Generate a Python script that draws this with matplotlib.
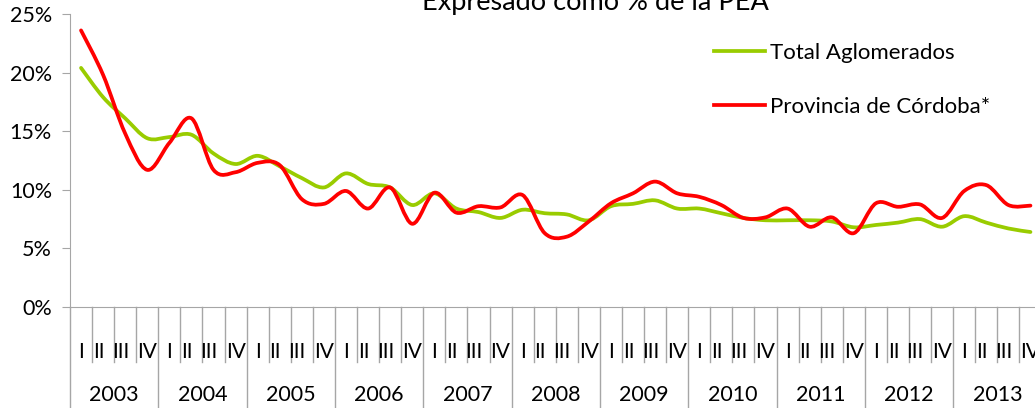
import numpy as np
import matplotlib
matplotlib.use('Agg')
import matplotlib.pyplot as plt
from matplotlib.path import Path
from matplotlib.patches import PathPatch
from matplotlib.lines import Line2D
from matplotlib.transforms import blended_transform_factory

plt.rcParams['font.family'] = ['Lato', 'DejaVu Sans']

years = ['2003', '2004', '2005', '2006', '2007', '2008',
         '2009', '2010', '2011', '2012', '2013']
quarters = ['I', 'II', 'III', 'IV']

# desocupacion, % de la PEA, trimestral 2003 I - 2013 IV
total_aglomerados = [
    20.4, 17.9, 16.1, 14.4,
    14.5, 14.7, 13.1, 12.2,
    12.9, 12.0, 11.0, 10.2,
    11.4, 10.5, 10.2, 8.7,
    9.7, 8.4, 8.1, 7.6,
    8.3, 8.0, 7.9, 7.4,
    8.6, 8.8, 9.1, 8.4,
    8.4, 8.0, 7.6, 7.4,
    7.4, 7.4, 7.3, 6.8,
    7.0, 7.2, 7.5, 6.85,
    7.75, 7.2, 6.7, 6.4,
]
prov_cordoba = [
    23.6, 19.8, 14.8, 11.7,
    14.0, 16.1, 11.7, 11.5,
    12.3, 12.1, 9.2, 8.8,
    9.9, 8.4, 10.2, 7.1,
    9.75, 8.05, 8.6, 8.5,
    9.55, 6.3, 6.0, 7.3,
    8.85, 9.7, 10.7, 9.7,
    9.4, 8.7, 7.6, 7.65,
    8.4, 6.85, 7.65, 6.3,
    8.85, 8.55, 8.75, 7.6,
    9.9, 10.4, 8.7, 8.65,
]

GREEN = '#99CC00'
RED = '#FF0000'
GRID = '#A6A6A6'


def smooth_path(y):
    # curva suavizada tipo Excel (Catmull-Rom -> Bezier cubica)
    x = np.arange(len(y), dtype=float)
    y = np.asarray(y, dtype=float)
    pts = np.column_stack([x, y])
    verts = [pts[0]]
    codes = [Path.MOVETO]
    n = len(pts)
    for i in range(n - 1):
        p0 = pts[max(i - 1, 0)]
        p1 = pts[i]
        p2 = pts[i + 1]
        p3 = pts[min(i + 2, n - 1)]
        c1 = p1 + (p2 - p0) / 6.0
        c2 = p2 - (p3 - p1) / 6.0
        verts += [c1, c2, p2]
        codes += [Path.CURVE4] * 3
    return Path(verts, codes)


fig = plt.figure(figsize=(10.35, 4.08), dpi=100)
W, H = 1035, 408
x0, x1 = 70, 1041.5
y_top, y_bot = 14, 307
ax = fig.add_axes([x0 / W, (H - y_bot) / H, (x1 - x0) / W, (y_bot - y_top) / H])

n = len(total_aglomerados)
for vals, col in [(total_aglomerados, GREEN), (prov_cordoba, RED)]:
    ax.add_patch(PathPatch(smooth_path(vals), facecolor='none', edgecolor=col,
                           lw=2.7, capstyle='round', joinstyle='round'))

ax.set_xlim(-0.5, n - 0.5)
ax.set_ylim(0, 25)
ax.set_yticks(np.arange(0, 26, 5))
ax.set_yticklabels([f'{v}%' for v in range(0, 26, 5)], fontsize=15.5)
ax.set_xticks([])
for s in ['top', 'right']:
    ax.spines[s].set_visible(False)
ax.spines['left'].set_color(GRID)
ax.spines['bottom'].set_color(GRID)
ax.tick_params(axis='y', length=6, color=GRID, pad=7, labelcolor='black')

# ejes de categorias en dos niveles
tr = blended_transform_factory(ax.transData, ax.transAxes)
q_off = {'I': 0.0, 'II': -0.2, 'III': -0.22, 'IV': 0.0}
for j in range(n + 1):
    b = j - 0.5
    if j % 4 == 0:
        ax.plot([b, b], [0, -0.4], transform=tr, color=GRID, lw=1, clip_on=False)
    else:
        ax.plot([b, b], [0, -0.188], transform=tr, color=GRID, lw=1, clip_on=False)
for k in range(n):
    q = quarters[k % 4]
    ax.text(k + q_off[q], -0.153, q, transform=tr, ha='center', va='center',
            fontsize=15, clip_on=False)
for i, yr in enumerate(years):
    ax.text(i * 4 + 1.5, -0.30, yr, transform=tr, ha='center', va='center',
            fontsize=15.5, clip_on=False)

fig.text(595 / W, (H - 10) / H, 'Expresado como % de la PEA', ha='center',
         va='baseline', fontsize=19.5)

handles = [Line2D([], [], color=GREEN, lw=2.7), Line2D([], [], color=RED, lw=2.7)]
ax.legend(handles, ['Total Aglomerados', 'Provincia de Córdoba*'],
          loc='upper left', bbox_to_anchor=(698 / W, (H - 27) / H),
          bbox_transform=fig.transFigure, frameon=False, fontsize=16,
          handlelength=2.3, handletextpad=0.25, labelspacing=1.55,
          borderpad=0.2)

fig.savefig('out.png', dpi=100)
